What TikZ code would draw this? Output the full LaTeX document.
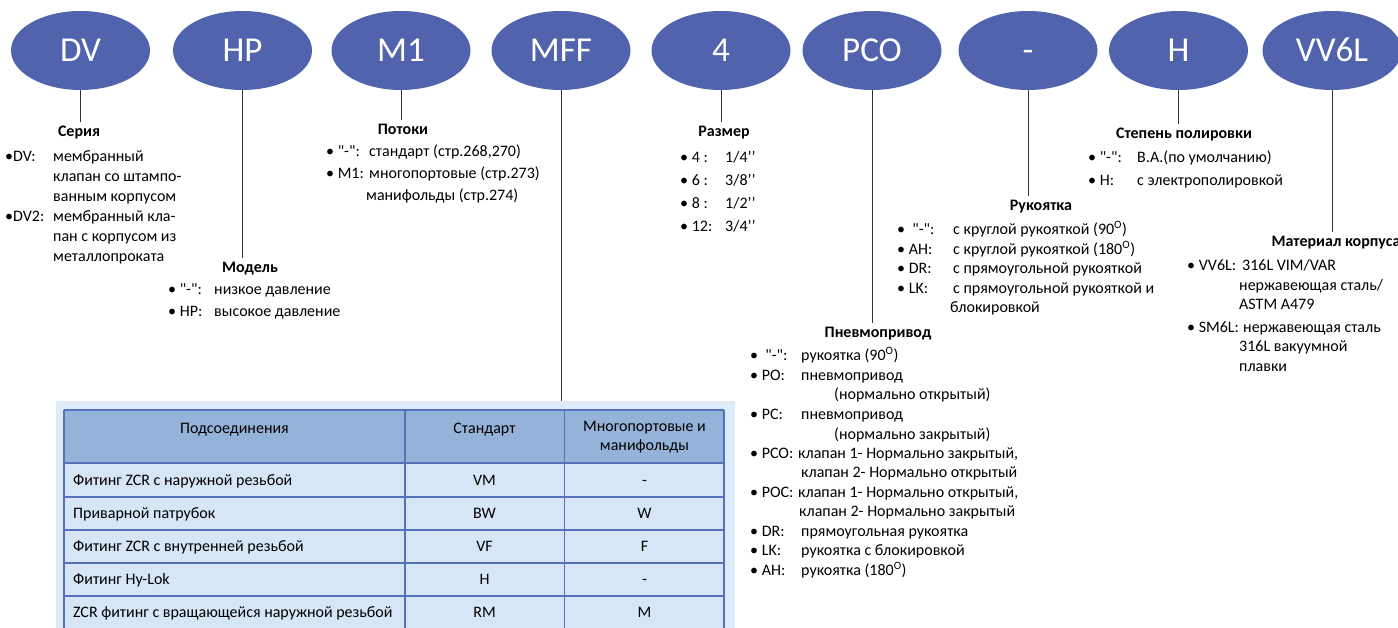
\documentclass[tikz,border=0pt]{standalone}
\usepackage{fontspec}
\setmainfont{Carlito}
\usepackage{array}
\usetikzlibrary{positioning,shapes.geometric}

\definecolor{codeblue}{RGB}{80,99,172}
\definecolor{headblue}{RGB}{149,179,217}
\definecolor{rowblue}{RGB}{214,230,247}
\definecolor{panelblue}{RGB}{222,236,249}
\definecolor{gridblue}{RGB}{86,112,186}
\newcommand{\dgr}[1]{#1\textsuperscript{O}}
\newcommand{\nil}{\textquotedbl-\textquotedbl}
\newcommand{\inch}{\textquoteright\textquoteright}
\newcommand{\widekey}[1]{\leavevmode\rlap{#1}}

\begin{document}
\begin{tikzpicture}[x=1pt,y=-1pt,
  codenode/.style={ellipse,fill=codeblue,text=white,minimum width=139pt,minimum height=79pt,inner sep=0pt,text height=23pt,text depth=0pt,font=\fontsize{35}{35}\selectfont},
  heading/.style={anchor=north,inner sep=4pt,font=\fontsize{16}{19}\selectfont\bfseries},
  itemlist/.style={anchor=base west,inner sep=0pt,align=left,font=\fontsize{16}{#1}\selectfont},
  stem/.style={draw=black!80,line width=0.9pt},
  grid/.style={draw=gridblue,line width=1.2pt},
  cell/.style={inner sep=0pt,font=\fontsize{16}{19}\selectfont},
  rowcell/.style={cell,text height=11pt,text depth=3pt}
]
\useasboundingbox (0,0) rectangle (1398,628);

% code letters
\node[codenode] (dv) at (80.5,50.5) {DV};
\node[codenode] (hp) at (242.5,50.5) {HP};
\node[codenode] (mone) at (401,50.5) {M1};
\node[codenode] (mff) at (561,50.5) {MFF};
\node[codenode] (size) at (721,50.5) {4};
\node[codenode] (pco) at (872,50.5) {PCO};
\node[codenode] (handle) at (1028,50.5) {-};
\node[codenode] (polish) at (1178.5,50.5) {H};
\node[codenode] (material) at (1332,50.5) {VV6L};

% headings
\node[heading] (serieshd) at (79,122) {Серия};
\node[heading] (modelhd) at (250,258) {Модель};
\node[heading] (flowhd) at (403,120) {Потоки};
\node[heading] (sizehd) at (724,122) {Размер};
\node[heading] (pneuhd) at (878,323) {Пневмопривод};
\node[heading] (handlehd) at (1041,196) {Рукоятка};
\node[heading] (polishhd) at (1184,124) {Степень полировки};
\node[heading] (materialhd) at (1336,232) {Материал корпуса};

\draw[stem] (dv.south) -- (dv.south |- serieshd.north);
\draw[stem] (hp.south) -- (hp.south |- modelhd.north);
\draw[stem] (mone.south) -- (mone.south |- flowhd.north);
\draw[stem] (size.south) -- (size.south |- sizehd.north);
\draw[stem] (pco.south) -- (pco.south |- pneuhd.north);
\draw[stem] (handle.south) -- (handle.south |- handlehd.north);
\draw[stem] (polish.south) -- (polish.south |- polishhd.north);
\draw[stem] (material.south) -- (material.south |- materialhd.north);

% option lists
\node[itemlist=20] (serieslist) at (5,162) {\begin{tabular}[t]{@{}p{48pt}@{}l@{}}
•DV: & мембранный\\
 & клапан со штампо-\\
 & ванным корпусом\\
•DV2: & мембранный кла-\\
 & пан с корпусом из\\
 & металлопроката
\end{tabular}};
\node[itemlist=22] (modellist) at (168,295) {\begin{tabular}[t]{@{}p{46pt}@{}l@{}}
• \nil: & низкое давление\\
• HP: & высокое давление
\end{tabular}};
\node[itemlist=22] (flowlist) at (326,157) {\begin{tabular}[t]{@{}p{43pt}@{}l@{}}
• \nil: & стандарт (стр.268,270)\\
• M1: & многопортовые (стр.273)\\
 & \hspace{-3pt}манифольды (стр.274)
\end{tabular}};
\node[itemlist=23] (sizelist) at (680,163) {\begin{tabular}[t]{@{}p{45pt}@{}l@{}}
• 4 : & 1/4\inch\\
• 6 : & 3/8\inch\\
• 8 : & 1/2\inch\\
• 12: & 3/4\inch
\end{tabular}};
\node[itemlist=19.5] (pneulist) at (750,361) {\begin{tabular}[t]{@{}p{51pt}@{}l@{}}
•~ \nil: & рукоятка (\dgr{90})\\
• PO: & пневмопривод\\
 & \hspace{33pt}(нормально открытый)\\
• PC: & пневмопривод\\
 & \hspace{33pt}(нормально закрытый)\\
• PCO: & \hspace{-3pt}клапан 1- Нормально закрытый,\\
 & клапан 2- Нормально открытый\\
• POC: & \hspace{-3pt}клапан 1- Нормально открытый,\\
 & \hspace{-2pt}клапан 2- Нормально закрытый\\
• DR: & прямоугольная рукоятка\\
• LK: & рукоятка с блокировкой\\
• AH: & рукоятка (\dgr{180})
\end{tabular}};
\node[itemlist=19.5] (handlelist) at (897,235) {\begin{tabular}[t]{@{}p{56pt}@{}l@{}}
•~ \nil: & с круглой рукояткой (\dgr{90})\\
• AH: & с круглой рукояткой (\dgr{180})\\
• DR: & с прямоугольной рукояткой\\
• LK: & с прямоугольной рукояткой и\\
 & \hspace{-3pt}блокировкой
\end{tabular}};
\node[itemlist=23] (polishlist) at (1088,163) {\begin{tabular}[t]{@{}p{49pt}@{}l@{}}
• \nil: & B.A.(по умолчанию)\\
• H: & с электрополировкой
\end{tabular}};
\node[itemlist=19.5] (materiallist) at (1187,271) {\begin{tabular}[t]{@{}p{52pt}@{}l@{}}
\widekey{• VV6L:} & \hspace{3pt}316L VIM/VAR\\
 & нержавеющая сталь/\\
 & ASTM A479\\[3pt]
\widekey{• SM6L:} & \hspace{4pt}нержавеющая сталь\\
 & 316L вакуумной\\
 & плавки
\end{tabular}};

% connection table
\coordinate (paneltop) at (561,401);
\draw[stem] (mff.south) -- (paneltop);
\fill[panelblue] (56,401) rectangle (735,628);
\fill[headblue] (64,410) rectangle (724,463);
\fill[rowblue] (64,463) rectangle (724,630);
\foreach \y in {410,463,497,530,563,596}
  \draw[grid] (64,\y) -- (724,\y);
\foreach \x in {64,405,564.5,724}
  \draw[grid] (\x,410) -- (\x,630);

\node[cell,anchor=base] (connhd) at (234.5,433) {Подсоединения};
\node[cell,anchor=base] (stdhd) at (484.5,433) {Стандарт};
\node[cell,align=center] (multihd) at (644.5,437) {Многопортовые и\\манифольды};
\foreach \conn/\std/\multi [count=\i] in {Фитинг ZCR с наружной резьбой/VM/-,
    Приварной патрубок/BW/W, Фитинг ZCR с внутренней резьбой/VF/F,
    Фитинг Hy-Lok/H/-, ZCR фитинг с вращающейся наружной резьбой/RM/M}{
  \node[rowcell,anchor=west] (conn\i) at (73,{481+(\i-1)*33}) {\conn};
  \node[rowcell] (std\i) at (484.5,{481+(\i-1)*33}) {\std};
  \node[rowcell] (multi\i) at (644.5,{481+(\i-1)*33}) {\multi};
}
\end{tikzpicture}
\end{document}
